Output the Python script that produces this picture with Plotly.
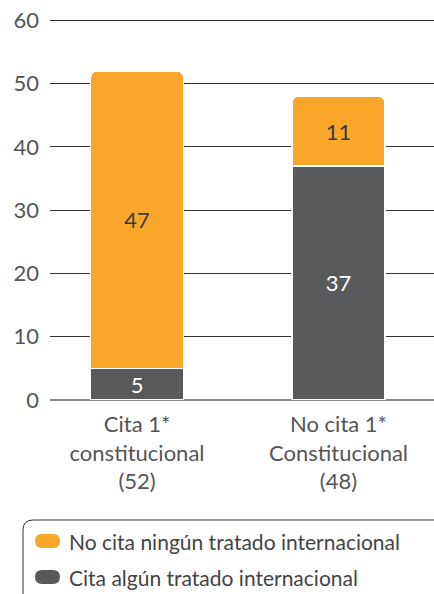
import plotly.graph_objects as go

categories = ["Cita 1*<br>constitucional<br>(52)", "No cita 1*<br>Constitucional<br>(48)"]
series_names = ["Cita algún tratado internacional", "No cita ningún tratado internacional"]
cita_vals = [5, 37]
no_cita_vals = [47, 11]
y_ticks = [0, 10, 20, 30, 40, 50, 60]

ORANGE = "#F9A72B"
GREY = "#58595B"
FONT = "Lato, Open Sans, sans-serif"

W, H = 434, 594
ML, MR, MT, MB = 50, 0, 14, 194
pw, ph = W - ML - MR, H - MT - MB

def px(x):
    return (x - ML) / pw

def py(y):
    return (H - MB - y) / ph

xi = list(range(len(categories)))

fig = go.Figure()
fig.add_trace(go.Bar(
    x=xi, y=cita_vals, name=series_names[0],
    marker=dict(color=GREY, line=dict(color="white", width=1.5)),
    text=cita_vals, textposition="inside", insidetextanchor="middle",
    textangle=0, constraintext="none",
    textfont=dict(color="white", size=22, family=FONT), width=0.46,
))
fig.add_trace(go.Bar(
    x=xi, y=no_cita_vals, name=series_names[1],
    marker=dict(color=ORANGE, line=dict(color="white", width=1.5)),
    text=no_cita_vals, textposition="inside", insidetextanchor="middle",
    textangle=0, constraintext="none",
    textfont=dict(color="#3a3a3a", size=22, family=FONT), width=0.46,
))

shapes = []
shapes.append(dict(
    type="path", xref="paper", yref="paper",
    path=f"M {px(23)},{py(600)} L {px(23)},{py(530)} Q {px(23)},{py(520)} {px(33)},{py(520)} L {px(440)},{py(520)}",
    line=dict(color="#333", width=1), fillcolor="rgba(0,0,0,0)", layer="above",
))
annotations = []
legend_items = [(series_names[1], ORANGE, 541), (series_names[0], GREY, 577)]
for name, col, cy in legend_items:
    x1, x2, hh = 35, 60, 7
    path = (f"M {px(x1+hh)},{py(cy-hh)} L {px(x2-hh)},{py(cy-hh)} "
            f"Q {px(x2)},{py(cy-hh)} {px(x2)},{py(cy)} Q {px(x2)},{py(cy+hh)} {px(x2-hh)},{py(cy+hh)} "
            f"L {px(x1+hh)},{py(cy+hh)} Q {px(x1)},{py(cy+hh)} {px(x1)},{py(cy)} "
            f"Q {px(x1)},{py(cy-hh)} {px(x1+hh)},{py(cy-hh)} Z")
    shapes.append(dict(type="path", xref="paper", yref="paper", path=path,
                       fillcolor=col, line=dict(width=0), layer="above"))
    annotations.append(dict(xref="paper", yref="paper", x=px(67), y=py(cy),
                            xanchor="left", yanchor="middle", showarrow=False,
                            text=name, font=dict(size=21, color="#444", family=FONT)))

fig.update_layout(
    width=W, height=H,
    margin=dict(l=ML, r=MR, t=MT, b=MB),
    barmode="stack", barcornerradius=6,
    plot_bgcolor="white", paper_bgcolor="white",
    showlegend=False,
    font=dict(family=FONT, color="#555"),
    xaxis=dict(range=[-0.432, 1.474], tickvals=xi, ticktext=categories,
               tickfont=dict(size=22, color="#555", family=FONT),
               showgrid=False, zeroline=False, showline=False, ticks="",
               ticklabelstandoff=9),
    yaxis=dict(range=[0, 61], tickvals=y_ticks, showgrid=True, gridcolor="#333",
               gridwidth=1.2, zeroline=True, zerolinecolor="#888", zerolinewidth=2,
               tickfont=dict(size=22, color="#555", family=FONT), ticks="",
               ticklabelstandoff=10),
    shapes=shapes, annotations=annotations,
)
fig.write_html("out.html", config={"displayModeBar": False},
               post_script="document.body.style.margin='0';document.body.style.overflow='hidden';")
